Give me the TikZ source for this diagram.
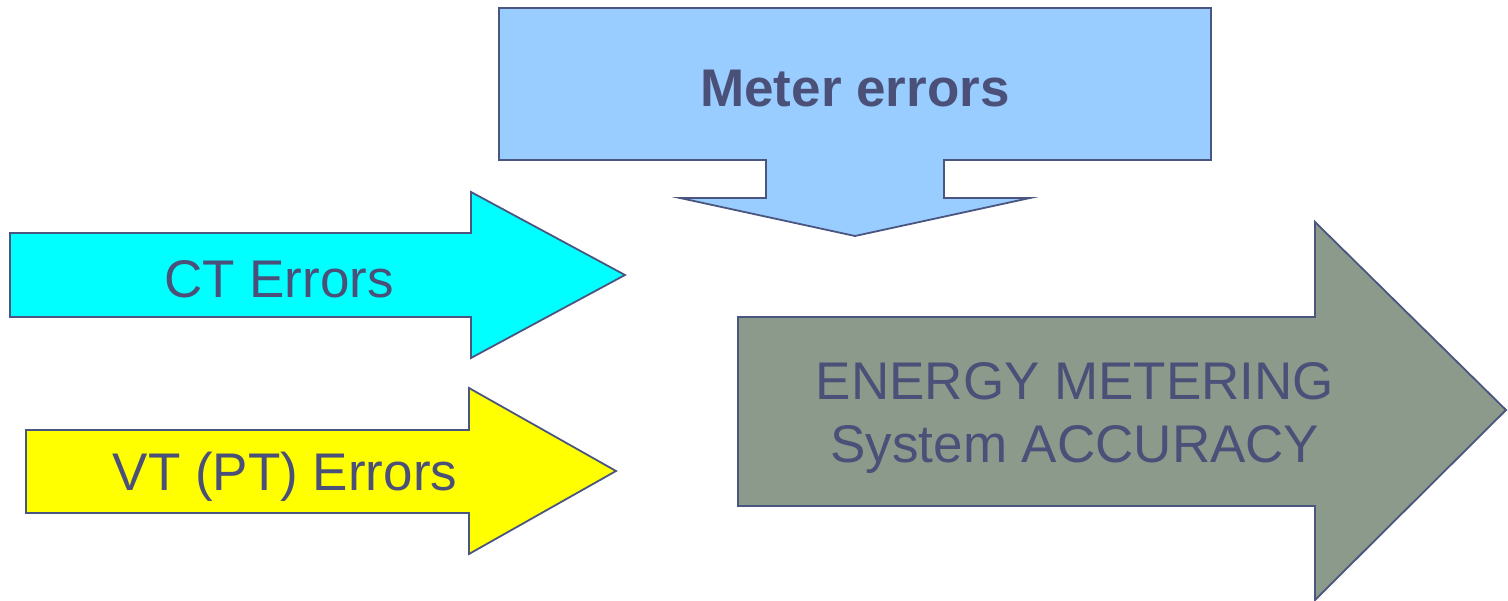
\documentclass[tikz,border=0pt]{standalone}
\usepackage{fontspec}
\setmainfont{Liberation Sans}
\definecolor{edge}{HTML}{4A5580}
\definecolor{txt}{HTML}{4B5079}
\definecolor{meterblue}{HTML}{99CCFF}
\definecolor{ctcyan}{HTML}{00FFFF}
\definecolor{vtyellow}{HTML}{FFFF00}
\definecolor{energygray}{HTML}{8C9A8C}
\tikzset{
  arrowshape/.style={draw=edge, line width=1.8pt, line join=miter},
  lbl/.style={text=txt, font=\fontsize{53}{63}\selectfont, align=center, inner sep=0pt},
}
\begin{document}
\begin{tikzpicture}[x=1pt,y=-1pt]
\useasboundingbox (0,0) rectangle (1508,601);
% Meter errors (down arrow)
\draw[arrowshape, fill=meterblue] (499,8) -- (1211,8) -- (1211,160) -- (944,160) -- (944,198) -- (1030,198) -- (855,236) -- (680,198) -- (766,198) -- (766,160) -- (499,160) -- cycle;
\node[lbl, font=\fontsize{53}{63}\selectfont\bfseries] (meter) at (855,89) {Meter errors};
% CT arrow
\draw[arrowshape, fill=ctcyan] (10,233) -- (471,233) -- (471,192) -- (625,275) -- (471,358) -- (471,317) -- (10,317) -- cycle;
\node[lbl] (ct) at (279,279) {CT Errors};
% VT arrow
\draw[arrowshape, fill=vtyellow] (26,430) -- (469,430) -- (469,388) -- (616,471) -- (469,554) -- (469,513) -- (26,513) -- cycle;
\node[lbl] (vt) at (285,477) {VT (PT) Errors};
% Energy arrow
\draw[arrowshape, fill=energygray] (738,317) -- (1315,317) -- (1315,222) -- (1506,410) -- (1315,600) -- (1315,506) -- (738,506) -- cycle;
\node[lbl] (energy) at (1075,418) {ENERGY METERING\\System ACCURACY};
\end{tikzpicture}
\end{document}
